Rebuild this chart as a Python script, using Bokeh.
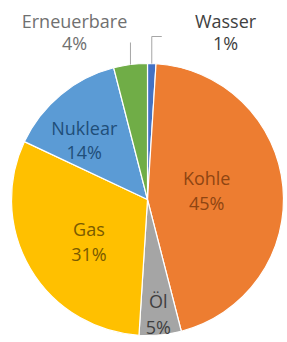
import math
from bokeh.plotting import figure
from bokeh.models import ColumnDataSource, Range1d
from bokeh.core.properties import value
from bokeh.embed import file_html
from bokeh.resources import INLINE

# ---- data ----
categories = ["Wasser", "Kohle", "Öl", "Gas", "Nuklear", "Erneuerbare"]
shares = [1, 45, 5, 31, 14, 4]
pct_labels = ["1%", "45%", "5%", "31%", "14%", "4%"]

# ---- style ----
colors = ["#4472C4", "#ED7D31", "#A5A5A5", "#FFC000", "#5B9BD5", "#70AD47"]
text_colors = ["#404040", "#8f4512", "#3f3f3f", "#7a5a00", "#1f4e79", "#707070"]
inside = [False, True, True, True, True, False]
label_rfrac = [1.0, 0.44, 0.845, 0.53, 0.64, 1.0]
label_dang = [0, -3, 0, -5, -7, 0]         # degrees, tweak of label angle
label_half_gap = [11, 12.5, 13, 12.5, 12, 11]
outside_pos = {0: (225, 31), 5: (74, 31)}  # page px, label centre
outside_elbow_y = {0: 36, 5: 42}
outside_hook = {0: 10, 5: 0}

W, H = 287, 342
CX, CY, R = 147, 199, 136   # page px
FONT = "Open Sans"
FS = "18px"

p = figure(width=W, height=H, output_backend="svg", toolbar_location=None,
           x_range=Range1d(0, W), y_range=Range1d(-H, 0),
           min_border=0, outline_line_color=None)
p.axis.visible = False
p.grid.visible = False
p.background_fill_color = "white"
p.border_fill_color = "white"

total = float(sum(shares))
starts, ends, mids = [], [], []
cum = 0.0
for s in shares:
    a0 = cum / total * 360.0
    a1 = (cum + s) / total * 360.0
    starts.append(math.radians(90 - a0))
    ends.append(math.radians(90 - a1))
    mids.append((a0 + a1) / 2.0)
    cum += s

src = ColumnDataSource(dict(start=starts, end=ends, color=colors,
                            x=[CX] * len(shares), y=[-CY] * len(shares)))
p.wedge(x="x", y="y", radius=R, start_angle="start", end_angle="end",
        direction="clock", fill_color="color", line_color="white",
        line_width=1.2, source=src)

nx, ny, px_, py_, tc = [], [], [], [], []
for i, cat in enumerate(categories):
    if inside[i]:
        ang = math.radians(mids[i] + label_dang[i])
        r = R * label_rfrac[i]
        lx = CX + r * math.sin(ang)
        ly = CY - r * math.cos(ang)
    else:
        lx, ly = outside_pos[i]
        ang = math.radians(mids[i])
        ex = CX + R * math.sin(ang)
        ey = CY - R * math.cos(ang)
        ty = outside_elbow_y[i]
        xs = [ex, ex]
        ys = [-ey, -ty]
        if outside_hook[i]:
            xs.append(ex + outside_hook[i])
            ys.append(-ty)
        p.line(xs, ys, line_color="#a6a6a6", line_width=1)
    g = label_half_gap[i]
    nx.append(lx); ny.append(-(ly - g))
    px_.append(lx); py_.append(-(ly + g))
    tc.append(text_colors[i])

p.text(x=nx, y=ny, text=categories, text_color=tc, text_align="center",
       text_baseline="middle", text_font=value(FONT), text_font_size=FS)
p.text(x=px_, y=py_, text=pct_labels, text_color=tc, text_align="center",
       text_baseline="middle", text_font=value(FONT), text_font_size=FS)

open("out.html", "w").write(file_html(p, INLINE))
